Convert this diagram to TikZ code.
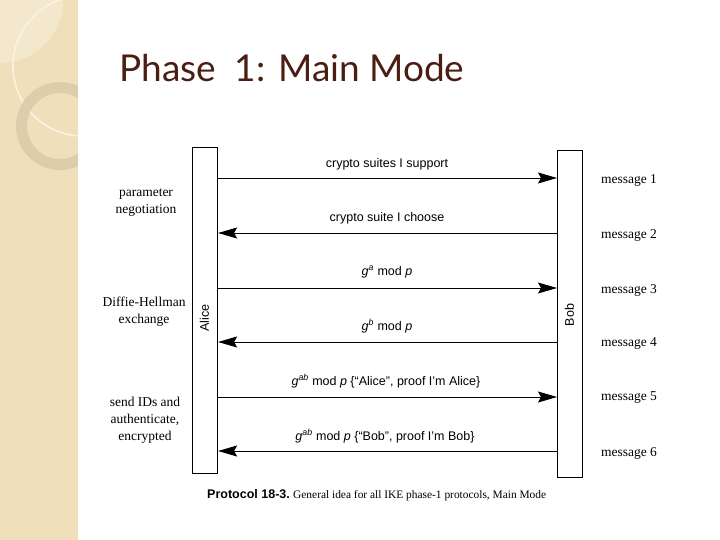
\documentclass[tikz,border=0pt]{standalone}
\usepackage{fontspec}
\setmainfont{Liberation Serif}
\setsansfont{Liberation Sans}
\newfontfamily\titlefont{Lato}
\usetikzlibrary{arrows.meta}
\definecolor{strip}{HTML}{EFE0BB}
\definecolor{stripl}{HTML}{F3E7CD}
\definecolor{ringc}{HTML}{DACDAA}
\definecolor{arcc}{HTML}{FAF3E2}
\definecolor{titlec}{HTML}{4A1E12}
\tikzset{
  bar/.style={draw=black, line width=1.1pt, fill=white, minimum width=25pt, inner sep=0pt},
  msg/.style={line width=0.9pt, -{Stealth[length=19pt,width=11pt,inset=3pt]}},
  lbl/.style={font=\sffamily\fontsize{12.5}{14}\selectfont, inner sep=0pt},
  side/.style={font=\fontsize{13.5}{17}\selectfont, align=center, inner sep=0pt},
  mtag/.style={font=\fontsize{13.5}{15}\selectfont, inner sep=0pt},
  who/.style={font=\sffamily\fontsize{12.5}{14}\selectfont, rotate=90, inner sep=0pt}
}
\begin{document}
\begin{tikzpicture}[x=1pt,y=-1pt]
\useasboundingbox (0,0) rectangle (720,540);
% left decorative strip
\begin{scope}
  \clip (0,0) rectangle (78,540);
  \fill[strip] (0,0) rectangle (78,540);
  \fill[stripl] (0,0) circle (63);
  \draw[arcc, line width=1.6pt] (83,66) circle (70);
  \draw[ringc, opacity=0.9, line width=11pt] (60,126) circle (38.5);
\end{scope}
% title
\node[titlec, font=\titlefont\fontsize{37}{44}\selectfont, anchor=west, inner sep=0pt] (title) at (119,68) {Phase\ \ 1: Main Mode};
% bars
\node[bar, minimum height=326pt, anchor=north west] (alice) at (192,147) {};
\node[bar, minimum height=327pt, anchor=north west] (bob) at (557,150) {};
\node[who] (alicet) at (204.5,318) {Alice};
\node[who] (bobt) at (569.5,315) {Bob};
% message y coordinates
\coordinate (y1) at (0,178);
\coordinate (y2) at (0,233);
\coordinate (y3) at (0,288);
\coordinate (y4) at (0,342);
\coordinate (y5) at (0,397);
\coordinate (y6) at (0,451);
% arrows
\draw[msg] (alice.east |- y1) -- (bob.west |- y1);
\draw[msg] (bob.west |- y2) -- (alice.east |- y2);
\draw[msg] (alice.east |- y3) -- (bob.west |- y3);
\draw[msg] (bob.west |- y4) -- (alice.east |- y4);
\draw[msg] (alice.east |- y5) -- (bob.west |- y5);
\draw[msg] (bob.west |- y6) -- (alice.east |- y6);
% arrow labels
\node[lbl] (l1) at (387,164) {crypto suites I support};
\node[lbl] (l2) at (387,218) {crypto suite I choose};
\node[lbl] (l3) at (387,272) {\textit{g}\textsuperscript{\textit{a}} mod \textit{p}};
\node[lbl] (l4) at (387,326) {\textit{g}\textsuperscript{\textit{b}} mod \textit{p}};
\node[lbl] (l5) at (386,381) {\textit{g}\textsuperscript{\textit{ab}} mod \textit{p} \{“Alice”, proof I’m Alice\}};
\node[lbl] (l6) at (385,436) {\textit{g}\textsuperscript{\textit{ab}} mod \textit{p} \{“Bob”, proof I’m Bob\}};
% message tags
\node[mtag] (m1) at (629,181) {message 1};
\node[mtag] (m2) at (629,235) {message 2};
\node[mtag] (m3) at (629,290) {message 3};
\node[mtag] (m4) at (629,344) {message 4};
\node[mtag] (m5) at (629,398) {message 5};
\node[mtag] (m6) at (629,453) {message 6};
% side labels
\node[side] (s1) at (146,203) {parameter\\negotiation};
\node[side] (s2) at (144,311.5) {Diffie-Hellman\\exchange};
\node[side] (s3) at (145,420) {send IDs and\\authenticate,\\encrypted};
% caption
\node[anchor=west, inner sep=0pt] (cap) at (207,495) {{\sffamily\bfseries\fontsize{12.5}{14}\selectfont Protocol 18-3.} {\fontsize{11.4}{13}\selectfont General idea for all IKE phase-1 protocols, Main Mode}};
\end{tikzpicture}
\end{document}
